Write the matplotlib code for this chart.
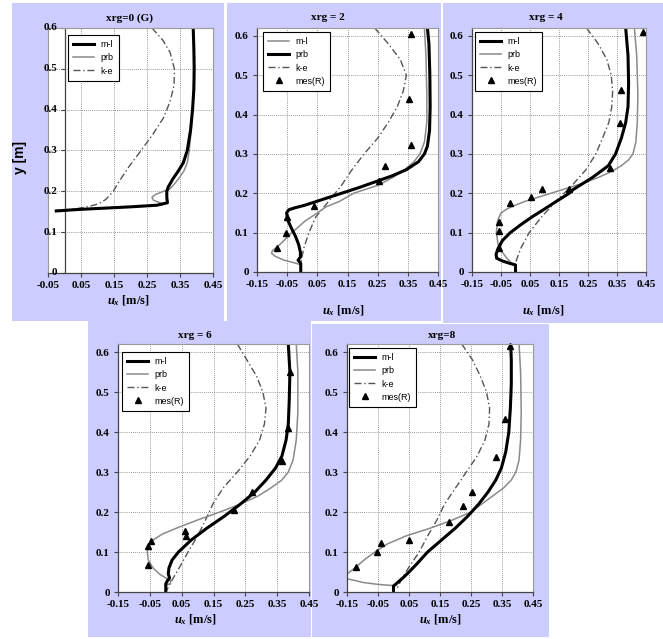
import matplotlib
matplotlib.use("Agg")
import matplotlib.pyplot as plt
from matplotlib.patches import Rectangle
from matplotlib.lines import Line2D
from matplotlib.transforms import offset_copy

SERIF = 'Liberation Serif'
SANS = 'Liberation Sans'
plt.rcParams['font.family'] = [SERIF, 'DejaVu Serif']
plt.rcParams['font.weight'] = 'bold'
plt.rcParams['mathtext.fontset'] = 'custom'
plt.rcParams['mathtext.it'] = 'Liberation Serif:italic:bold'
plt.rcParams['mathtext.rm'] = 'Liberation Serif:bold'

# ---------------- data ----------------
titles = ["xrg=0 (G)", "xrg = 2", "xrg = 4", "xrg = 6", "xrg=8"]
x_ticks_first = [-0.05, 0.05, 0.15, 0.25, 0.35, 0.45]
x_ticks = [-0.15, -0.05, 0.05, 0.15, 0.25, 0.35, 0.45]
y_ticks = [0, 0.1, 0.2, 0.3, 0.4, 0.5, 0.6]
y_tick_labels = ["0", "0.1", "0.2", "0.3", "0.4", "0.5", "0.6"]

# xrg = 0
p0_ml_y = [0.60, 0.55, 0.50, 0.45, 0.40, 0.35, 0.30, 0.27, 0.25, 0.23, 0.21, 0.20, 0.185, 0.172, 0.166, 0.162, 0.158, 0.155, 0.153, 0.152]
p0_ml_x = [0.390, 0.392, 0.393, 0.392, 0.388, 0.382, 0.372, 0.360, 0.345, 0.328, 0.314, 0.310, 0.310, 0.312, 0.28, 0.20, 0.10, 0.03, -0.005, -0.025]
p0_prb_y = [0.60, 0.50, 0.40, 0.35, 0.30, 0.27, 0.25, 0.23, 0.215, 0.205, 0.200, 0.192, 0.185, 0.178, 0.172, 0.168, 0.164, 0.160, 0.156, 0.153]
p0_prb_x = [0.390, 0.393, 0.388, 0.384, 0.378, 0.372, 0.362, 0.345, 0.330, 0.318, 0.300, 0.275, 0.265, 0.270, 0.290, 0.300, 0.26, 0.15, 0.05, -0.02]
p0_ke_y = [0.60, 0.57, 0.54, 0.50, 0.46, 0.42, 0.38, 0.34, 0.30, 0.26, 0.22, 0.20, 0.18, 0.17, 0.163, 0.158, 0.155, 0.153]
p0_ke_x = [0.265, 0.298, 0.320, 0.333, 0.332, 0.320, 0.300, 0.268, 0.232, 0.195, 0.162, 0.148, 0.125, 0.105, 0.075, 0.040, 0.010, -0.010]

# xrg = 2
p2_ml_y = [0.62, 0.55, 0.45, 0.38, 0.33, 0.30, 0.28, 0.26, 0.24, 0.22, 0.20, 0.18, 0.166, 0.15, 0.13, 0.10, 0.07, 0.055, 0.048, 0.04, 0.03, 0.022, 0.018]
p2_ml_x = [0.405, 0.41, 0.413, 0.413, 0.405, 0.39, 0.37, 0.34, 0.30, 0.25, 0.17, 0.125, 0.08, 0.05, 0.01, -0.034, -0.074, -0.098, -0.102, -0.09, -0.06, -0.02, -0.005]
p2_prb_y = [0.62, 0.58, 0.50, 0.42, 0.36, 0.32, 0.30, 0.28, 0.26, 0.245, 0.23, 0.215, 0.20, 0.185, 0.17, 0.163, 0.158, 0.15, 0.13, 0.11, 0.09, 0.07, 0.05, 0.038, 0.03, 0.022, 0.0]
p2_prb_x = [0.415, 0.42, 0.423, 0.424, 0.422, 0.415, 0.405, 0.385, 0.345, 0.30, 0.245, 0.19, 0.13, 0.07, 0.01, -0.025, -0.045, -0.052, -0.047, -0.035, -0.022, -0.012, -0.006, -0.006, -0.014, -0.005, -0.005]
p2_ke_y = [0.62, 0.58, 0.54, 0.50, 0.46, 0.42, 0.38, 0.34, 0.30, 0.26, 0.22, 0.18, 0.14, 0.10, 0.06, 0.03, 0.0]
p2_ke_x = [0.24, 0.285, 0.325, 0.345, 0.335, 0.315, 0.285, 0.25, 0.205, 0.165, 0.13, 0.088, 0.045, 0.022, 0.005, -0.003, -0.005]
p2_mes_x = [0.36, 0.355, 0.36, 0.275, 0.255, 0.04, -0.05, -0.055, -0.085]
p2_mes_y = [0.604, 0.44, 0.323, 0.27, 0.232, 0.168, 0.14, 0.098, 0.06]

# xrg = 4
p4_ml_y = [0.62, 0.55, 0.48, 0.42, 0.38, 0.34, 0.30, 0.27, 0.24, 0.21, 0.20, 0.18, 0.16, 0.14, 0.12, 0.10, 0.08, 0.06, 0.045, 0.035, 0.028, 0.022, 0.018, 0.0]
p4_ml_x = [0.38, 0.388, 0.39, 0.388, 0.38, 0.365, 0.345, 0.32, 0.265, 0.20, 0.185, 0.142, 0.10, 0.057, 0.018, -0.018, -0.045, -0.06, -0.067, -0.065, -0.045, -0.02, 0.0, 0.0]
p4_prb_y = [0.62, 0.55, 0.45, 0.38, 0.33, 0.30, 0.285, 0.27, 0.255, 0.24, 0.225, 0.21, 0.195, 0.18, 0.17, 0.16, 0.15, 0.13, 0.10, 0.07, 0.05, 0.035, 0.02, 0.015, 0.0]
p4_prb_x = [0.41, 0.418, 0.422, 0.42, 0.415, 0.405, 0.39, 0.365, 0.33, 0.285, 0.23, 0.165, 0.10, 0.035, 0.0, -0.03, -0.05, -0.062, -0.066, -0.06, -0.045, -0.03, -0.01, 0.0, 0.0]
p4_ke_y = [0.62, 0.58, 0.54, 0.50, 0.46, 0.42, 0.38, 0.34, 0.30, 0.26, 0.22, 0.18, 0.14, 0.10, 0.06, 0.03, 0.0]
p4_ke_x = [0.245, 0.285, 0.315, 0.33, 0.335, 0.332, 0.322, 0.30, 0.277, 0.243, 0.195, 0.14, 0.09, 0.047, 0.018, 0.003, 0.0]
p4_mes_x = [0.44, 0.365, 0.36, 0.325, 0.185, 0.09, 0.055, -0.02, -0.058, -0.058, -0.058]
p4_mes_y = [0.61, 0.463, 0.378, 0.265, 0.212, 0.21, 0.19, 0.176, 0.128, 0.103, 0.06]

# xrg = 6
p6_ml_y = [0.62, 0.55, 0.48, 0.42, 0.38, 0.34, 0.31, 0.28, 0.25, 0.22, 0.19, 0.16, 0.13, 0.10, 0.08, 0.06, 0.045, 0.035, 0.028, 0.02, 0.0]
p6_ml_x = [0.385, 0.39, 0.388, 0.385, 0.378, 0.365, 0.345, 0.315, 0.28, 0.235, 0.185, 0.13, 0.08, 0.04, 0.02, 0.01, 0.008, 0.012, 0.005, 0.0, 0.0]
p6_prb_y = [0.62, 0.55, 0.45, 0.38, 0.33, 0.30, 0.28, 0.26, 0.24, 0.22, 0.20, 0.18, 0.16, 0.145, 0.13, 0.115, 0.10, 0.08, 0.06, 0.045, 0.035, 0.028, 0.022, 0.018, 0.015, 0.0]
p6_prb_x = [0.41, 0.415, 0.415, 0.41, 0.40, 0.385, 0.365, 0.33, 0.29, 0.235, 0.17, 0.10, 0.035, -0.01, -0.04, -0.055, -0.058, -0.055, -0.04, -0.02, 0.0, 0.015, 0.015, 0.005, 0.0, 0.0]
p6_ke_y = [0.62, 0.58, 0.54, 0.50, 0.46, 0.42, 0.38, 0.34, 0.30, 0.26, 0.22, 0.18, 0.14, 0.10, 0.06, 0.03, 0.0]
p6_ke_x = [0.225, 0.255, 0.285, 0.305, 0.315, 0.31, 0.295, 0.265, 0.225, 0.18, 0.148, 0.125, 0.10, 0.07, 0.042, 0.02, 0.0]
p6_mes_x = [0.39, 0.385, 0.365, 0.27, 0.215, 0.06, 0.065, -0.045, -0.055, -0.055]
p6_mes_y = [0.55, 0.41, 0.327, 0.25, 0.205, 0.152, 0.14, 0.127, 0.115, 0.067]

# xrg = 8
p8_ml_y = [0.62, 0.58, 0.52, 0.46, 0.40, 0.35, 0.31, 0.28, 0.25, 0.22, 0.19, 0.16, 0.13, 0.10, 0.07, 0.05, 0.035, 0.025, 0.018, 0.015, 0.0]
p8_ml_x = [0.378, 0.38, 0.38, 0.377, 0.372, 0.362, 0.348, 0.33, 0.305, 0.275, 0.24, 0.20, 0.155, 0.11, 0.075, 0.05, 0.03, 0.015, 0.005, 0.0, 0.0]
p8_prb_y = [0.62, 0.55, 0.45, 0.38, 0.33, 0.30, 0.28, 0.26, 0.24, 0.22, 0.20, 0.18, 0.16, 0.14, 0.12, 0.10, 0.08, 0.06, 0.045, 0.04, 0.036, 0.033, 0.028, 0.024, 0.019, 0.016]
p8_prb_x = [0.405, 0.41, 0.412, 0.41, 0.405, 0.395, 0.38, 0.355, 0.32, 0.285, 0.25, 0.19, 0.12, 0.04, -0.02, -0.06, -0.095, -0.125, -0.15, -0.165, -0.17, -0.15, -0.12, -0.10, -0.05, 0.0]
p8_ke_y = [0.62, 0.58, 0.54, 0.50, 0.46, 0.42, 0.38, 0.34, 0.30, 0.26, 0.22, 0.18, 0.14, 0.10, 0.06, 0.03, 0.01]
p8_ke_x = [0.22, 0.255, 0.28, 0.30, 0.31, 0.308, 0.295, 0.27, 0.235, 0.20, 0.165, 0.14, 0.11, 0.083, 0.048, 0.025, 0.012]
p8_mes_x = [0.375, 0.36, 0.33, 0.252, 0.225, 0.18, 0.051, -0.04, -0.053, -0.121]
p8_mes_y = [0.616, 0.433, 0.337, 0.25, 0.215, 0.176, 0.131, 0.123, 0.10, 0.063]

# ---------------- figure ----------------
W, H = 663, 639
fig = plt.figure(figsize=(W / 100, H / 100), dpi=100)
fig.patch.set_facecolor('white')
LAV = '#ccccfe'

def rect_px(x0, y0, x1, y1):
    fig.add_artist(Rectangle((x0 / W, 1 - y1 / H), (x1 - x0) / W, (y1 - y0) / H,
                             transform=fig.transFigure, facecolor=LAV,
                             edgecolor='none', zorder=0))

def ax_px(x0, y0, x1, y1):
    return fig.add_axes([x0 / W, 1 - y1 / H, (x1 - x0) / W, (y1 - y0) / H])

for r in [(12, 3, 224, 321), (227, 3, 441, 321), (443, 3, 663, 323),
          (88, 321, 311, 637), (312, 324, 549, 637)]:
    rect_px(*r)

THICK = dict(color='black', lw=2.2, solid_joinstyle='round')
THIN = dict(color='#8a8a8a', lw=1.1)
KE = dict(color='#555555', lw=1.0, linestyle=(0, (5, 2, 1, 2)))
MES = dict(color='black', marker='^', linestyle='none', markersize=5)
AXC = '#444444'

def style_axes(ax, xticks, xlim, ylim, yaxis_at_zero=False):
    ax.set_facecolor('white')
    ax.set_xlim(*xlim)
    ax.set_ylim(*ylim)
    ax.set_xticks(xticks, [f"{t:.2f}" for t in xticks])
    ax.set_yticks(y_ticks, y_tick_labels)
    ax.tick_params(direction='out', length=3, width=0.8, color=AXC, pad=3,
                   labelsize=8)
    ax.grid(True, color='#777777', linestyle=(0, (1, 1.5)), linewidth=0.6)
    ax.set_axisbelow(True)
    for s in ['top', 'right']:
        ax.spines[s].set_color('#9a9a9a')
        ax.spines[s].set_linewidth(0.8)
    for s in ['left', 'bottom']:
        ax.spines[s].set_color(AXC)
        ax.spines[s].set_linewidth(0.9)
    if yaxis_at_zero:
        # vertical axis crossing at x = 0 (Excel style)
        ax.spines['left'].set_color('#9a9a9a')
        ax.spines['left'].set_linewidth(0.8)
        ax.tick_params(axis='y', left=False, labelleft=False)
        ax.axvline(0, color=AXC, lw=0.9, zorder=1.5)
        ax.plot([0] * len(y_ticks), y_ticks, linestyle='none', marker=0,
                markersize=3, markeredgewidth=0.8, color=AXC, clip_on=False)
        tr = offset_copy(ax.transData, fig=fig, x=-5, y=0, units='points')
        for yv, lab in zip(y_ticks, y_tick_labels):
            ax.text(0, yv, lab, transform=tr, ha='right', va='center',
                    fontsize=8, fontweight='bold', family=SERIF)

def add_legend(ax, handles, labels, x, y):
    leg = ax.legend(handles, labels, loc='upper left', bbox_to_anchor=(x / W, 1 - y / H),
                    bbox_transform=fig.transFigure,
                    prop=dict(family=SANS, size=6.5, weight='normal'),
                    frameon=True, fancybox=False, framealpha=1, edgecolor='black',
                    borderpad=0.6, handlelength=2.3, labelspacing=0.45, handletextpad=0.7,
                    borderaxespad=0)
    leg.get_frame().set_linewidth(0.8)

def h_line(st):
    return Line2D([], [], **st)

# panel 1 (xrg=0)
ax = ax_px(48, 28, 213, 273)
style_axes(ax, x_ticks_first, (-0.05, 0.45), (0, 0.6), yaxis_at_zero=True)
ax.plot(p0_ke_x, p0_ke_y, **KE)
ax.plot(p0_prb_x, p0_prb_y, **THIN)
ax.plot(p0_ml_x, p0_ml_y, **THICK)
add_legend(ax, [h_line(THICK), h_line(THIN), h_line(KE)], ["m-l", "prb", "k-e"], 68, 35)

# panel 2 (xrg=2) -- legend: m-l thin, prb thick
ax = ax_px(257, 28, 438, 272)
style_axes(ax, x_ticks, (-0.15, 0.45), (0, 0.62))
ax.plot(p2_ke_x, p2_ke_y, **KE)
ax.plot(p2_ml_x, p2_ml_y, **THIN)
ax.plot(p2_prb_x, p2_prb_y, **THICK)
ax.plot(p2_mes_x, p2_mes_y, **MES)
add_legend(ax, [h_line(THIN), h_line(THICK), h_line(KE), h_line(MES)],
           ["m-l", "prb", "k-e", "mes(R)"], 263, 32)

# panel 3 (xrg=4)
ax = ax_px(472, 28, 646, 272)
style_axes(ax, x_ticks, (-0.15, 0.45), (0, 0.62))
ax.plot(p4_ke_x, p4_ke_y, **KE)
ax.plot(p4_prb_x, p4_prb_y, **THIN)
ax.plot(p4_ml_x, p4_ml_y, **THICK)
ax.plot(p4_mes_x, p4_mes_y, clip_on=False, **MES)
add_legend(ax, [h_line(THICK), h_line(THIN), h_line(KE), h_line(MES)],
           ["m-l", "prb", "k-e", "mes(R)"], 475, 32)

# panel 4 (xrg=6)
ax = ax_px(118, 344, 309, 592)
style_axes(ax, x_ticks, (-0.15, 0.45), (0, 0.62))
ax.plot(p6_ke_x, p6_ke_y, **KE)
ax.plot(p6_prb_x, p6_prb_y, **THIN)
ax.plot(p6_ml_x, p6_ml_y, **THICK)
ax.plot(p6_mes_x, p6_mes_y, **MES)
add_legend(ax, [h_line(THICK), h_line(THIN), h_line(KE), h_line(MES)],
           ["m-l", "prb", "k-e", "mes(R)"], 122, 352)

# panel 5 (xrg=8)
ax = ax_px(347, 344, 533, 592)
style_axes(ax, x_ticks, (-0.15, 0.45), (0, 0.62))
ax.plot(p8_ke_x, p8_ke_y, **KE)
ax.plot(p8_prb_x, p8_prb_y, **THIN)
ax.plot(p8_ml_x, p8_ml_y, **THICK)
ax.plot(p8_mes_x, p8_mes_y, clip_on=False, **MES)
add_legend(ax, [h_line(THICK), h_line(THIN), h_line(KE), h_line(MES)],
           ["m-l", "prb", "k-e", "mes(R)"], 349, 348)

# titles
for t, (x, y) in zip(titles, [(130, 18), (328, 18), (546, 18), (195, 335), (442, 335)]):
    fig.text(x / W, 1 - y / H, t, ha='center', va='center', family=SERIF,
             fontweight='bold', fontsize=8)

# x labels
for (x, y) in [(128, 301), (343, 311), (543, 311), (195, 620), (440, 620)]:
    fig.text(x / W, 1 - y / H, r'$u_x$ [m/s]', ha='center', va='center', family=SERIF,
             fontweight='bold', fontsize=9)

fig.text(20 / W, 1 - 157 / H, 'y [m]', rotation=90, ha='center', va='center',
         family=SANS, fontweight='bold', fontsize=10)

fig.savefig('out.png', dpi=100)
